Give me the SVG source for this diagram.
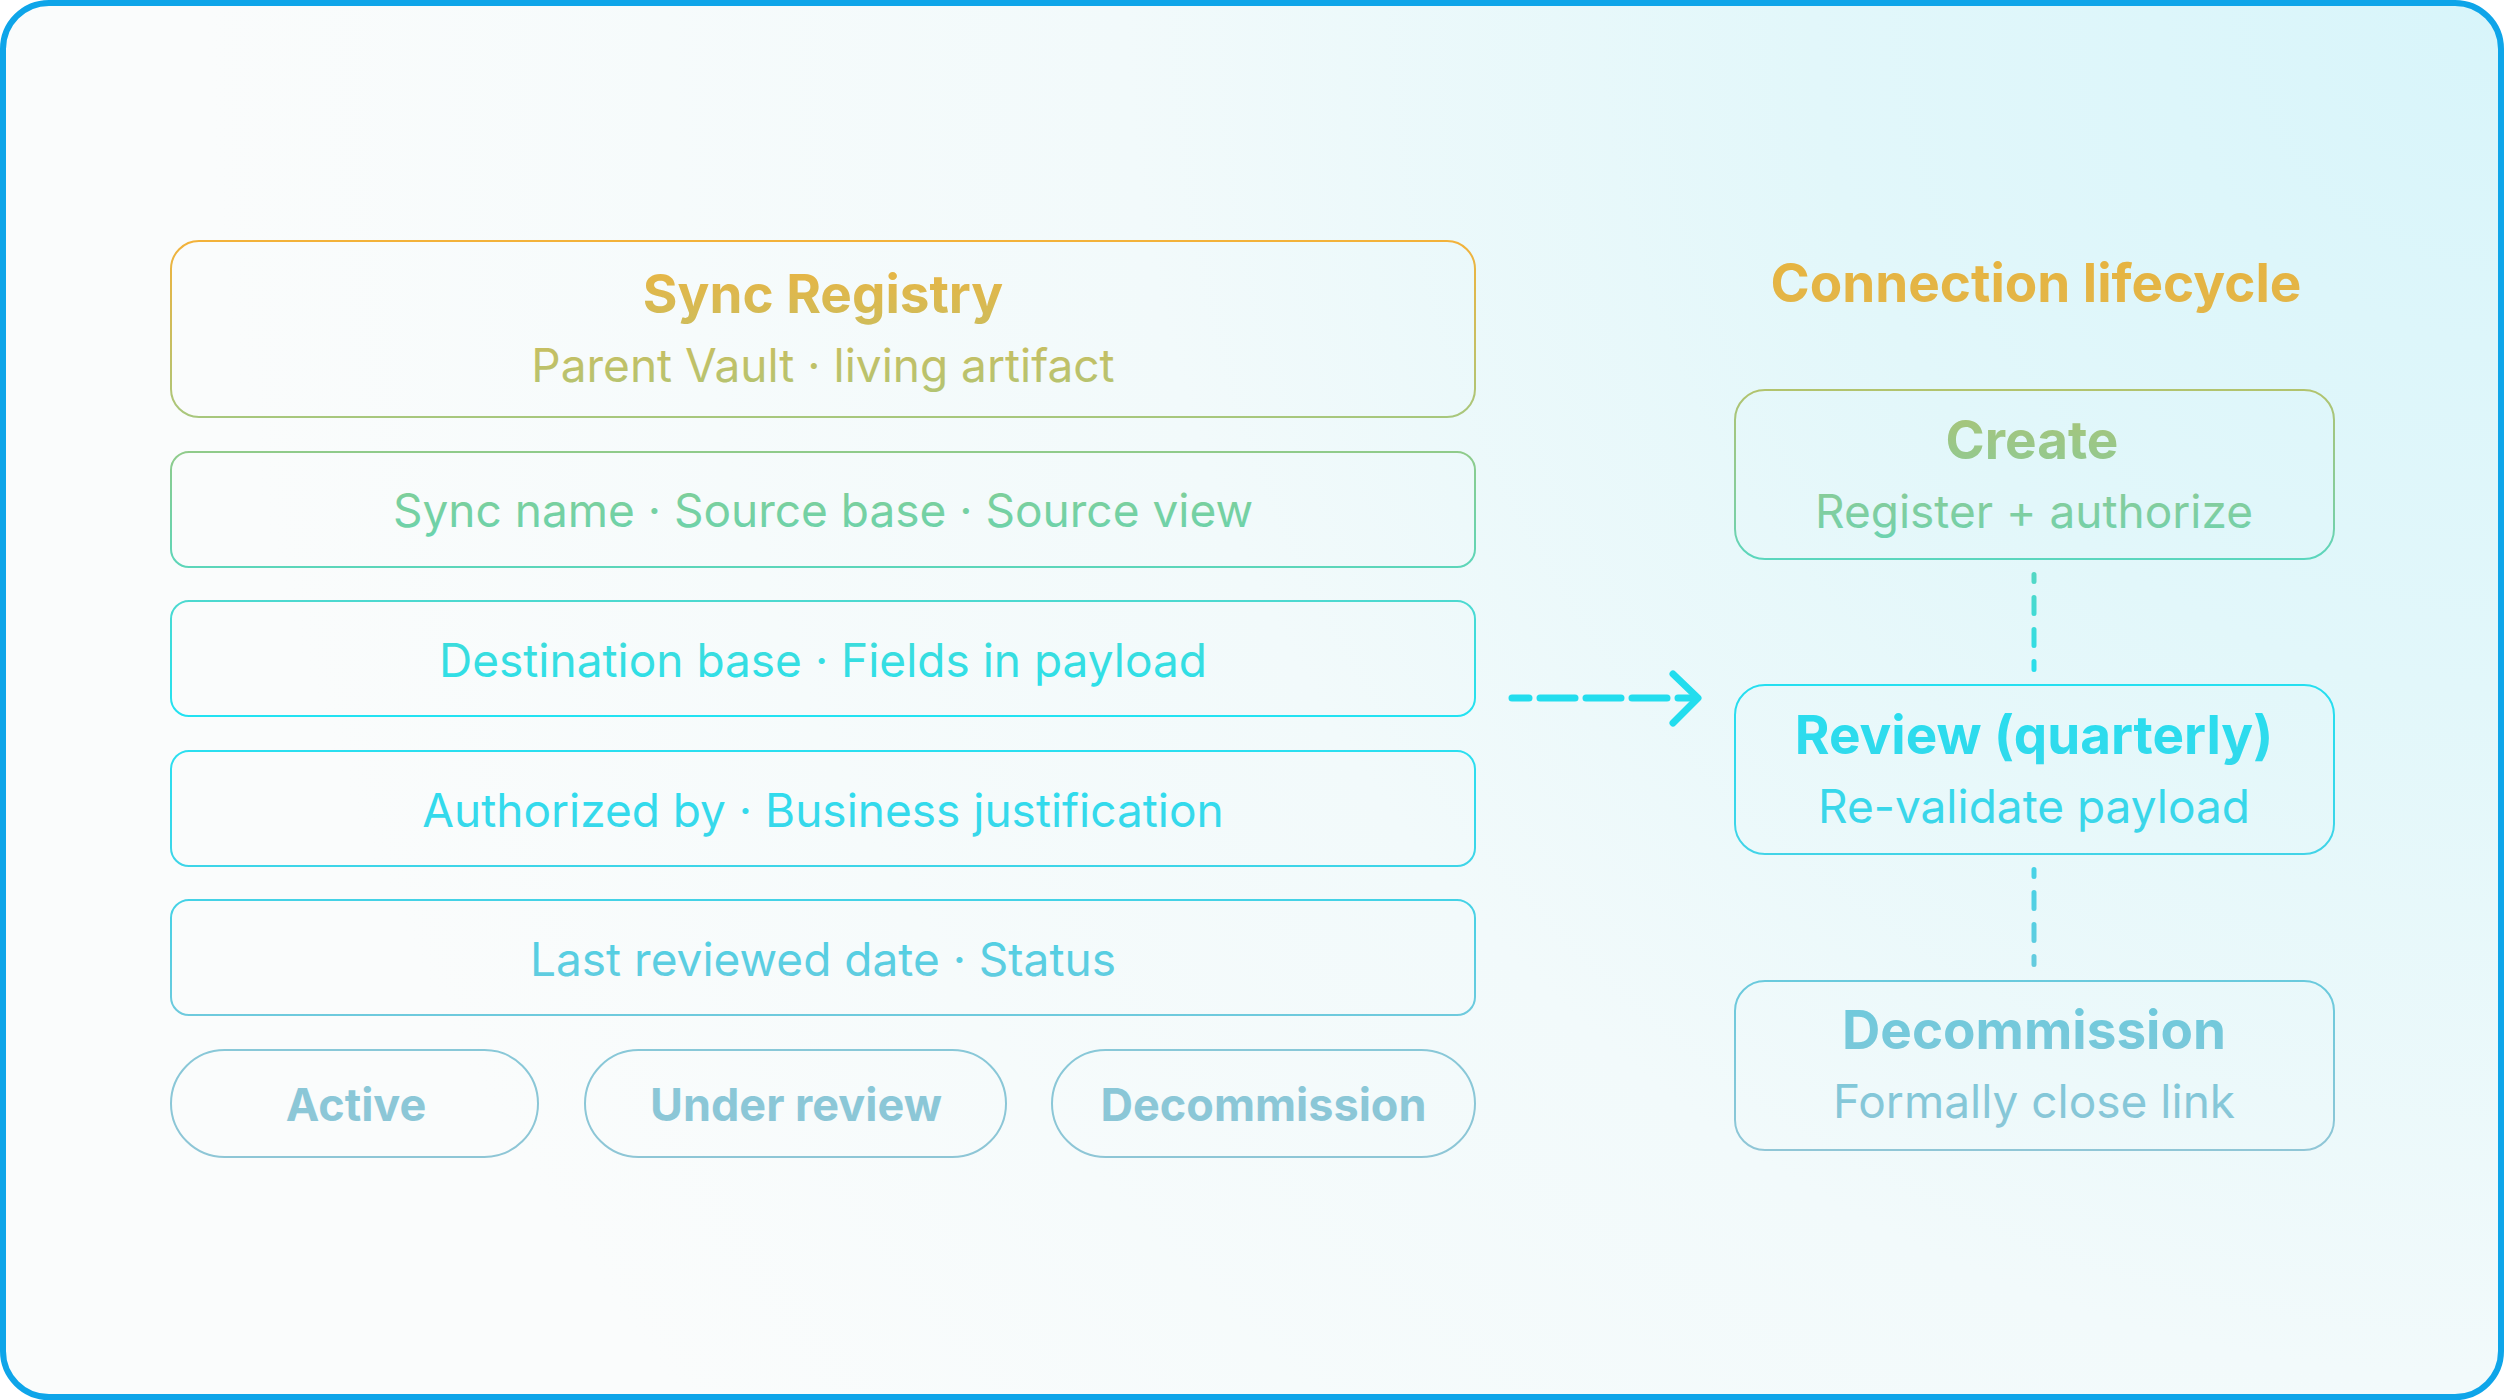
<svg xmlns="http://www.w3.org/2000/svg" width="2504" height="1400" viewBox="0 0 2504 1400">
  <defs>
    <radialGradient id="bg" cx="2504" cy="0" r="2300" gradientUnits="userSpaceOnUse">
      <stop offset="0" stop-color="#D8F5FA"/>
      <stop offset="0.3" stop-color="#E2F7FA"/>
      <stop offset="0.6" stop-color="#F2FAFB"/>
      <stop offset="1" stop-color="#FAFCFC"/>
    </radialGradient>
    <linearGradient id="gl" x1="0" y1="241" x2="0" y2="1157" gradientUnits="userSpaceOnUse">
      <stop offset="0" stop-color="#F3B23A"/>
      <stop offset="0.19" stop-color="#A9C77C"/>
      <stop offset="0.23" stop-color="#90CB8A"/>
      <stop offset="0.357" stop-color="#5CD6BA"/>
      <stop offset="0.393" stop-color="#4CD9D0"/>
      <stop offset="0.518" stop-color="#22E2F2"/>
      <stop offset="0.555" stop-color="#2ADFF0"/>
      <stop offset="0.68" stop-color="#3DD5E8"/>
      <stop offset="0.72" stop-color="#44D2E6"/>
      <stop offset="0.845" stop-color="#6ECADD"/>
      <stop offset="0.88" stop-color="#88C8D8"/>
      <stop offset="1" stop-color="#8EC6D6"/>
    </linearGradient>
    <linearGradient id="gr" x1="0" y1="263" x2="0" y2="1150" gradientUnits="userSpaceOnUse">
      <stop offset="0" stop-color="#E6B441"/>
      <stop offset="0.06" stop-color="#E2B64A"/>
      <stop offset="0.14" stop-color="#B3C36C"/>
      <stop offset="0.2" stop-color="#9CC786"/>
      <stop offset="0.29" stop-color="#7BCFA4"/>
      <stop offset="0.33" stop-color="#5CD6BC"/>
      <stop offset="0.47" stop-color="#24DFF0"/>
      <stop offset="0.66" stop-color="#40D4E8"/>
      <stop offset="0.81" stop-color="#6ACADD"/>
      <stop offset="1" stop-color="#90C6D6"/>
    </linearGradient>
    <style>
      .t { font-family: Inter, "Noto Sans", "Liberation Sans", sans-serif; text-anchor: middle; }
      .h { font-size: 53px; font-weight: 700; }
      .s { font-size: 46px; font-weight: 400; }
      .p { font-size: 45px; font-weight: 700; }
      .bl { fill: none; stroke: url(#gl); stroke-width: 2; }
      .br { fill: none; stroke: url(#gr); stroke-width: 2; }
      .tl { fill: url(#gl); }
      .tr { fill: url(#gr); }
      .dash { fill: none; stroke: url(#gr); stroke-width: 5; stroke-linecap: round; stroke-dasharray: 16 16; stroke-dashoffset: 9; }
      .arrow { fill: none; stroke: #22DDEE; stroke-width: 7; stroke-linecap: round; stroke-linejoin: round; }
    </style>
  </defs>

  <rect x="3" y="3" width="2498" height="1394" rx="46" fill="url(#bg)" stroke="#0EA5E9" stroke-width="6"/>

  <g id="sync-registry">
    <rect class="bl" x="171" y="241" width="1304" height="176" rx="28"/>
    <text class="t h tl" x="823" y="313">Sync Registry</text>
    <text class="t s tl" x="823" y="382">Parent Vault · living artifact</text>
  </g>
  <g id="row-sync-name">
    <rect class="bl" x="171" y="452" width="1304" height="115" rx="18"/>
    <text class="t s tl" x="823" y="527">Sync name · Source base · Source view</text>
  </g>
  <g id="row-destination">
    <rect class="bl" x="171" y="601" width="1304" height="115" rx="18"/>
    <text class="t s tl" x="823" y="677">Destination base · Fields in payload</text>
  </g>
  <g id="row-authorized">
    <rect class="bl" x="171" y="751" width="1304" height="115" rx="18"/>
    <text class="t s tl" x="823" y="827">Authorized by · Business justification</text>
  </g>
  <g id="row-last-reviewed">
    <rect class="bl" x="171" y="900" width="1304" height="115" rx="18"/>
    <text class="t s tl" x="823" y="976">Last reviewed date · Status</text>
  </g>
  <g id="pill-active">
    <rect class="bl" x="171" y="1050" width="367" height="107" rx="53.5"/>
    <text class="t p tl" x="356" y="1121">Active</text>
  </g>
  <g id="pill-under-review">
    <rect class="bl" x="585" y="1050" width="421" height="107" rx="53.5"/>
    <text class="t p tl" x="796" y="1121">Under review</text>
  </g>
  <g id="pill-decommission">
    <rect class="bl" x="1052" y="1050" width="423" height="107" rx="53.5"/>
    <text class="t p tl" x="1263.5" y="1121">Decommission</text>
  </g>

  <g id="lifecycle-title">
    <text class="t h tr" x="2036" y="302">Connection lifecycle</text>
  </g>
  <g id="create">
    <rect class="br" x="1735" y="390" width="599" height="169" rx="30"/>
    <text class="t h tr" x="2032" y="459">Create</text>
    <text class="t s tr" x="2034" y="528">Register + authorize</text>
  </g>
  <g id="review">
    <rect class="br" x="1735" y="685" width="599" height="169" rx="30"/>
    <text class="t h tr" x="2034" y="754">Review (quarterly)</text>
    <text class="t s tr" x="2034" y="823">Re-validate payload</text>
  </g>
  <g id="decommission">
    <rect class="br" x="1735" y="981" width="599" height="169" rx="30"/>
    <text class="t h tr" x="2034" y="1049">Decommission</text>
    <text class="t s tr" x="2034" y="1118">Formally close link</text>
  </g>

  <g id="connectors">
    <line class="dash" x1="2034" y1="574.5" x2="2034" y2="669.5"/>
    <line class="dash" x1="2034" y1="869.5" x2="2034" y2="964.5"/>
    <line class="arrow" x1="1512" y1="698" x2="1696" y2="698" stroke-dasharray="35 11" stroke-dashoffset="18"/>
    <path class="arrow" d="M1673,674 L1698,698 L1673,723"/>
  </g>
</svg>
